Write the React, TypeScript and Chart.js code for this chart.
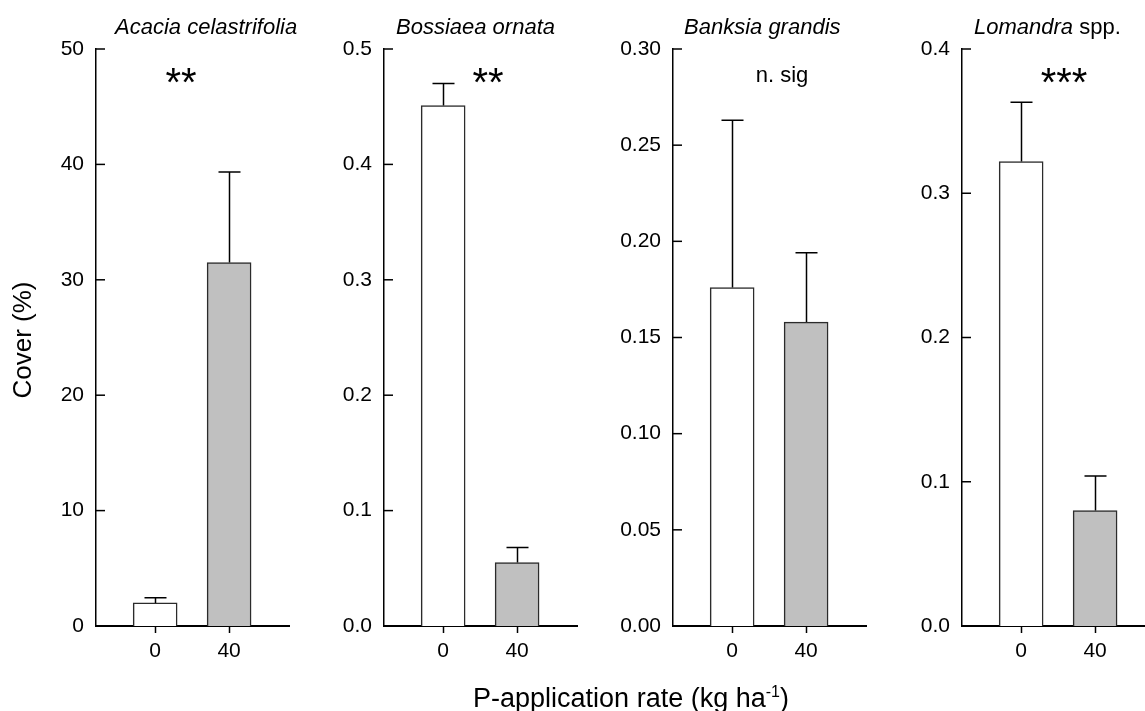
import React, { useEffect, useRef } from 'react';
import { Chart, registerables } from 'chart.js';

Chart.register(...registerables);
Chart.defaults.font.family = "'Liberation Sans', Arial, sans-serif";

// ---- data ----
const rates = [0, 40];
const speciesNames = ['Acacia celastrifolia', 'Bossiaea ornata', 'Banksia grandis', 'Lomandra'];
const speciesSuffix = ['', '', '', ' spp.'];
const acaciaMean = [2.0, 31.5];
const acaciaSE = [0.45, 7.85];
const bossiaeaMean = [0.451, 0.055];
const bossiaeaSE = [0.019, 0.013];
const banksiaMean = [0.176, 0.158];
const banksiaSE = [0.087, 0.036];
const lomandraMean = [0.322, 0.080];
const lomandraSE = [0.041, 0.024];
const yMaxValues = [50, 0.5, 0.3, 0.4];
const yStepValues = [10, 0.1, 0.05, 0.1];
const yDecimals = [0, 1, 2, 1];
const significance = ['**', '**', 'n. sig', '***'];
const xTickValues = [0, 40];

const means = [acaciaMean, bossiaeaMean, banksiaMean, lomandraMean];
const errors = [acaciaSE, bossiaeaSE, banksiaSE, lomandraSE];

// ---- layout / style ----
const AXIS_W = 70;
const PLOT_W = 193;
const RIGHT_PAD = 30;
const panelAxisX = [96, 384, 673, 962];
const titleOffsetX = [19, 12, 11, 12];
const annotOffsetX = [85, 104, 109, 102];
const FONT = "'Liberation Sans', Arial, sans-serif";

function Panel({ idx }: { idx: number }) {
  const ref = useRef<HTMLCanvasElement>(null);
  useEffect(() => {
    const canvas = ref.current!;
    const m = means[idx];
    const se = errors[idx];
    const decor = {
      id: 'decor' + idx,
      afterDatasetsDraw(chart: any) {
        const { ctx, scales } = chart;
        const y = scales.y;
        ctx.save();
        const meta = chart.getDatasetMeta(0);
        ctx.strokeStyle = '#000';
        ctx.lineWidth = 1.5;
        meta.data.forEach((bar: any, i: number) => {
          const top = y.getPixelForValue(m[i]);
          const cap = y.getPixelForValue(m[i] + se[i]);
          const x = Math.round(bar.x) + 0.5;
          ctx.beginPath();
          ctx.moveTo(x, top);
          ctx.lineTo(x, cap);
          ctx.moveTo(x - 11, cap);
          ctx.lineTo(x + 11, cap);
          ctx.stroke();
        });
        ctx.restore();
      },
      afterDraw(chart: any) {
        const { ctx, chartArea, scales } = chart;
        const y = scales.y;
        ctx.save();
        // inward y ticks
        ctx.strokeStyle = '#000';
        ctx.lineWidth = 1.5;
        y.ticks.forEach((t: any) => {
          const py = y.getPixelForValue(t.value);
          ctx.beginPath();
          ctx.moveTo(chartArea.left, py);
          ctx.lineTo(chartArea.left + 9, py);
          ctx.stroke();
        });
        // title
        ctx.fillStyle = '#000';
        ctx.textBaseline = 'alphabetic';
        ctx.textAlign = 'left';
        const tx = chartArea.left + titleOffsetX[idx];
        ctx.font = `italic 22px ${FONT}`;
        ctx.fillText(speciesNames[idx], tx, 34);
        if (speciesSuffix[idx]) {
          const w = ctx.measureText(speciesNames[idx]).width;
          ctx.font = `22px ${FONT}`;
          ctx.fillText(speciesSuffix[idx], tx + w, 34);
        }
        // significance annotation
        ctx.textAlign = 'center';
        const ax = chartArea.left + annotOffsetX[idx];
        if (significance[idx].includes('*')) {
          ctx.font = `40px ${FONT}`;
          ctx.fillText(significance[idx], ax, 96);
        } else {
          ctx.font = `22px ${FONT}`;
          ctx.fillText(significance[idx], ax, 82);
        }
        ctx.restore();
      },
    };
    const chart = new Chart(canvas, {
      type: 'bar',
      data: {
        datasets: [
          {
            data: rates.map((r, i) => ({ x: r, y: m[i] })) as any,
            backgroundColor: ['#ffffff', '#c0c0c0'],
            borderColor: '#2b2b2b',
            borderWidth: 1.5,
            barThickness: 44,
          },
        ],
      },
      options: {
        animation: false,
        responsive: false,
        maintainAspectRatio: false,
        layout: { padding: { top: 49, left: 0, right: RIGHT_PAD, bottom: 0 } },
        plugins: { legend: { display: false }, tooltip: { enabled: false }, title: { display: false } },
        scales: {
          x: {
            type: 'linear',
            offset: false,
            min: -32,
            max: 72.4,
            afterBuildTicks: (s: any) => {
              s.ticks = xTickValues.map((v) => ({ value: v }));
            },
            afterFit: (s: any) => {
              s.height = 85;
            },
            ticks: {
              color: '#000',
              font: { size: 21, family: FONT },
              padding: 6,
              maxRotation: 0,
              callback: (v: any) => String(v),
            },
            grid: {
              display: true,
              offset: false,
              drawOnChartArea: false,
              drawTicks: true,
              tickLength: 7,
              tickWidth: 1.5,
              tickColor: '#000',
            },
            border: { display: true, color: '#000', width: 2 },
          },
          y: {
            type: 'linear',
            min: 0,
            max: yMaxValues[idx],
            afterFit: (s: any) => {
              s.width = AXIS_W;
            },
            ticks: {
              stepSize: yStepValues[idx],
              color: '#000',
              font: { size: 21, family: FONT },
              padding: 12,
              callback: (v: any) => Number(v).toFixed(yDecimals[idx]),
            },
            grid: { display: false, drawTicks: false },
            border: { display: true, color: '#000', width: 1.5 },
          },
        },
      },
      plugins: [decor as any],
    });
    return () => chart.destroy();
  }, [idx]);
  const w = AXIS_W + PLOT_W + RIGHT_PAD;
  return (
    <canvas
      ref={ref}
      width={w}
      height={711}
      style={{ position: 'absolute', left: panelAxisX[idx] - AXIS_W, top: 0, width: w, height: 711 }}
    />
  );
}

export default function App() {
  return (
    <div
      style={{
        position: 'fixed',
        left: 0,
        top: 0,
        width: 1145,
        height: 711,
        overflow: 'hidden',
        background: '#fff',
        fontFamily: FONT,
        color: '#000',
      }}
    >
      {[0, 1, 2, 3].map((i) => (
        <Panel key={i} idx={i} />
      ))}
      <div
        style={{
          position: 'absolute',
          left: 22 - 100,
          top: 340 - 13,
          width: 200,
          height: 26,
          lineHeight: '26px',
          fontSize: 26,
          textAlign: 'center',
          transform: 'rotate(-90deg)',
          transformOrigin: '50% 50%',
          whiteSpace: 'nowrap',
        }}
      >
        Cover (%)
      </div>
      <div
        style={{
          position: 'absolute',
          left: 631,
          top: 685,
          transform: 'translateX(-50%)',
          fontSize: 27,
          lineHeight: '27px',
          whiteSpace: 'nowrap',
        }}
      >
        P-application rate (kg ha
        <sup style={{ fontSize: 16, lineHeight: 0, verticalAlign: 'baseline', position: 'relative', top: -10 }}>-1</sup>)
      </div>
    </div>
  );
}
